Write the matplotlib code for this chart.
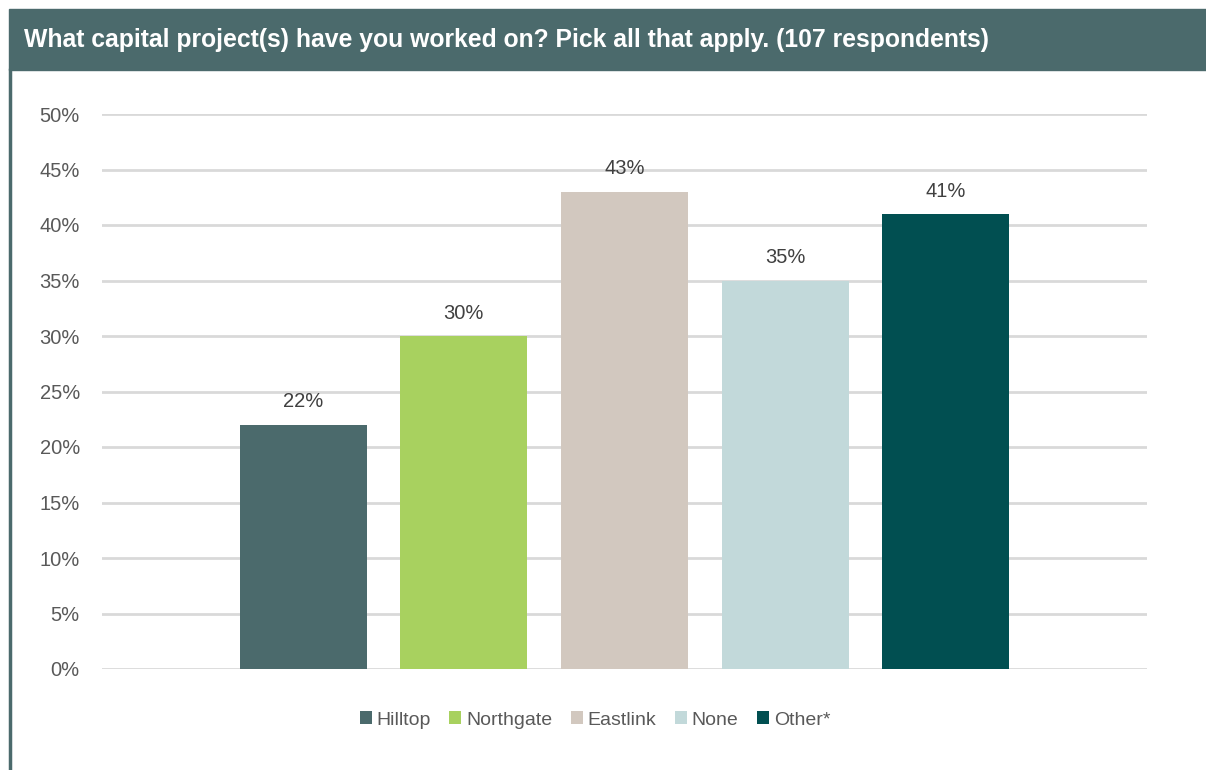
import matplotlib.pyplot as plt
from matplotlib.patches import Rectangle
from matplotlib.lines import Line2D

# data
projects = ['Hilltop', 'Northgate', 'Eastlink', 'None', 'Other*']
shares = [22, 30, 43, 35, 41]
colors = ['#4b6a6c', '#a8d15f', '#d2c8bf', '#c2d9da', '#014f51']
yticks = [0, 5, 10, 15, 20, 25, 30, 35, 40, 45, 50]

plt.rcParams['font.family'] = ['Liberation Sans', 'DejaVu Sans']

fig = plt.figure(figsize=(12.06, 7.7), dpi=100)
W, H = 1206, 770

# title banner + left border
fig.patches.append(Rectangle((9 / W, 1 - 70 / H), 1 - 9 / W, 61 / H,
                             transform=fig.transFigure, color='#4b6a6c', zorder=0))
fig.lines.append(Line2D([10 / W, 10 / W], [0, 1 - 70 / H], transform=fig.transFigure,
                        color='#4b6a6c', lw=2.5))
fig.text(24 / W, 1 - 40 / H, 'What capital project(s) have you worked on? Pick all that apply. (107 respondents)',
         color='white', fontsize=17.8, fontweight='bold', va='center', ha='left')

ax = fig.add_axes([102 / W, 1 - 669 / H, (1147 - 102) / W, (669 - 114) / H])
x = list(range(len(projects)))
bw = 127 / 160.5
for i in x:
    ax.bar(i, shares[i], width=bw, color=colors[i], label=projects[i], zorder=3)
    ax.text(i, shares[i] + 1.2, f'{shares[i]}%', ha='center', va='bottom',
            fontsize=14.5, color='#404040')

pad = 201 / 160.5
ax.set_xlim(-pad, len(projects) - 1 + pad)
ax.set_ylim(0, 50)
ax.set_yticks(yticks)
ax.set_yticklabels([f'{v}%' for v in yticks], fontsize=14.5, color='#595959')
ax.tick_params(axis='y', length=0, pad=16)
ax.set_xticks([])
ax.grid(axis='y', color='#d9d9d9', lw=2, zorder=0)
for s in ax.spines.values():
    s.set_visible(False)

leg = fig.legend(loc='center', bbox_to_anchor=(595 / W, 1 - 720 / H), ncol=5, frameon=False,
                 fontsize=14, handlelength=0.62, handleheight=0.62, handletextpad=0.25,
                 columnspacing=0.95)
for t in leg.get_texts():
    t.set_color('#595959')

fig.savefig('out.png', dpi=100, facecolor='white')
